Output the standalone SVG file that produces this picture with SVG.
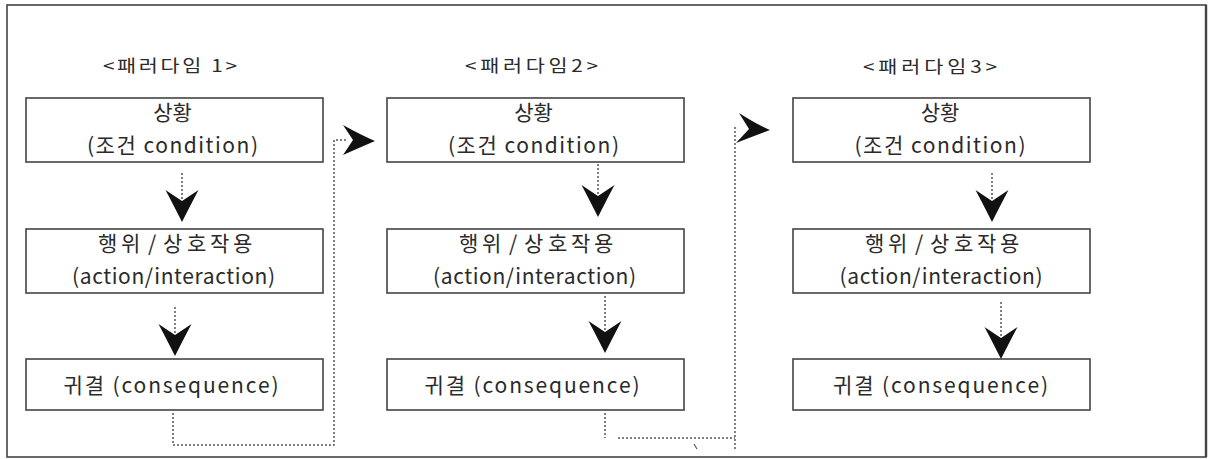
<svg xmlns="http://www.w3.org/2000/svg" width="1208" height="459" viewBox="0 0 1208 459">
<style>
.box{fill:#fff;stroke:#444;stroke-width:1.6}
.t{font-family:"Noto Sans CJK KR","Noto Sans",sans-serif;font-size:21px;fill:#2a2a2a;text-anchor:middle}
.s{font-family:"Noto Sans CJK KR","Noto Sans",sans-serif;font-size:21px;fill:#2a2a2a;text-anchor:start}
.h{font-family:"Noto Sans CJK KR","Noto Sans",sans-serif;font-size:17px;fill:#2a2a2a;text-anchor:middle}
.dot{fill:none;stroke:#555;stroke-width:1.5;stroke-dasharray:2 2}
.head{fill:#111}
</style>
<defs>
<path id="down" d="M0,0 Q-7,-14 -16.5,-32 L0,-21 L16.5,-32 Q7,-14 0,0 Z"/>
</defs>
<rect x="7" y="5" width="1199" height="452" fill="#fff" stroke="#444" stroke-width="1.6"/>
<line x1="1206" y1="5" x2="1206" y2="457" stroke="#444" stroke-width="2.4"/>

<g id="title1"><text class="h" transform="translate(170 72) scale(1.22 1)" textLength="110" lengthAdjust="spacing">&lt;패러다임 1&gt;</text></g>
<g id="title2"><text class="h" transform="translate(531.5 72) scale(1.22 1)" textLength="109" lengthAdjust="spacing">&lt;패러다임2&gt;</text></g>
<g id="title3"><text class="h" transform="translate(930 73) scale(1.22 1)" textLength="110" lengthAdjust="spacing">&lt;패러다임3&gt;</text></g>

<g id="p1-condition"><rect class="box" x="26" y="98" width="297" height="64"/>
<text class="t" x="172.5" y="120">상황</text>
<text class="t" x="172.5" y="153" textLength="171" lengthAdjust="spacing">(조건 condition)</text></g>
<g id="p1-action"><rect class="box" x="26" y="229" width="297" height="64"/>
<text class="s" x="98 121 148 163 187 210 233" y="251">행위/상호작용</text>
<text class="t" x="173.5" y="284" textLength="203" lengthAdjust="spacing">(action/interaction)</text></g>
<g id="p1-consequence"><rect class="box" x="26" y="359" width="297" height="51"/>
<text class="t" x="171" y="393" textLength="215" lengthAdjust="spacing">귀결 (consequence)</text></g>

<g id="p2-condition"><rect class="box" x="387" y="98" width="297" height="64"/>
<text class="t" x="533.5" y="120">상황</text>
<text class="t" x="533.5" y="153" textLength="171" lengthAdjust="spacing">(조건 condition)</text></g>
<g id="p2-action"><rect class="box" x="387" y="229" width="297" height="64"/>
<text class="s" x="459 482 509 524 548 571 594" y="251">행위/상호작용</text>
<text class="t" x="534.5" y="284" textLength="203" lengthAdjust="spacing">(action/interaction)</text></g>
<g id="p2-consequence"><rect class="box" x="387" y="359" width="297" height="51"/>
<text class="t" x="532" y="393" textLength="215" lengthAdjust="spacing">귀결 (consequence)</text></g>

<g id="p3-condition"><rect class="box" x="793" y="98" width="297" height="64"/>
<text class="t" x="940" y="120">상황</text>
<text class="t" x="940" y="153" textLength="171" lengthAdjust="spacing">(조건 condition)</text></g>
<g id="p3-action"><rect class="box" x="793" y="229" width="297" height="64"/>
<text class="s" x="865 888 915 930 954 977 1000" y="251">행위/상호작용</text>
<text class="t" x="941" y="284" textLength="203" lengthAdjust="spacing">(action/interaction)</text></g>
<g id="p3-consequence"><rect class="box" x="793" y="359" width="297" height="51"/>
<text class="t" x="940.5" y="393" textLength="215" lengthAdjust="spacing">귀결 (consequence)</text></g>

<g id="connectors">
<line class="dot" x1="182" y1="173" x2="182" y2="202"/>
<use href="#down" class="head" x="182" y="222"/>
<line class="dot" x1="175" y1="307" x2="175" y2="336"/>
<use href="#down" class="head" x="175" y="356"/>
<polyline class="dot" points="173,413 173,445 334,445 334,140 346,140"/>
<path class="head" d="M375,141 Q361,135 343,125 L353,140 L343,155 Q361,147 375,141 Z"/>

<line class="dot" x1="598" y1="164" x2="598" y2="197"/>
<use href="#down" class="head" x="598" y="217"/>
<line class="dot" x1="605" y1="296" x2="605" y2="333"/>
<use href="#down" class="head" x="605" y="353"/>
<polyline class="dot" points="605,413 605,438"/>
<polyline class="dot" points="618,438 735,438"/>
<line class="dot" x1="735" y1="127" x2="735" y2="451"/>
<line x1="694" y1="444" x2="697" y2="449" stroke="#555" stroke-width="1.2"/>
<path class="head" d="M770,130 Q756,124 739,113 L749,129 L736,143 Q754,136 770,130 Z"/>

<line class="dot" x1="992" y1="173" x2="992" y2="202"/>
<use href="#down" class="head" x="992" y="222"/>
<line class="dot" x1="1001" y1="302" x2="1001" y2="339"/>
<use href="#down" class="head" x="1001" y="359"/>
</g>
</svg>
